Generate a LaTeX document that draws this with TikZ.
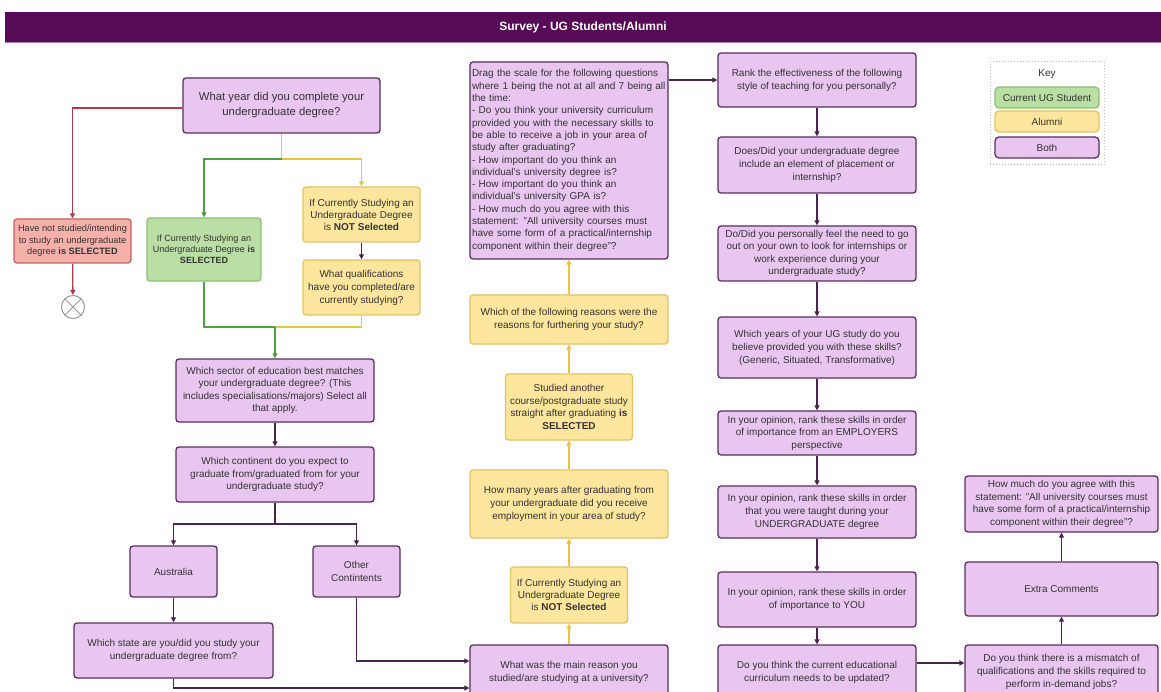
\documentclass[tikz,border=0pt]{standalone}
\usepackage{fontspec}
\setmainfont{Liberation Sans}
\usetikzlibrary{arrows.meta}
\definecolor{bothfill}{HTML}{E8C6F0}
\definecolor{bothline}{HTML}{5A2D5E}
\definecolor{alumfill}{HTML}{FCE59C}
\definecolor{alumline}{HTML}{E2C265}
\definecolor{curfill}{HTML}{BADFA4}
\definecolor{curline}{HTML}{8CBF73}
\definecolor{nofill}{HTML}{F5B1A9}
\definecolor{noline}{HTML}{C4625C}
\definecolor{titlebar}{HTML}{570B57}
\definecolor{textgray}{HTML}{333333}
\definecolor{arrdark}{HTML}{4B2350}
\definecolor{arryellow}{HTML}{E6C640}
\definecolor{arrgreen}{HTML}{4E9E44}
\definecolor{arrred}{HTML}{B03C46}

\begin{document}
\begin{tikzpicture}[x=1pt,y=-1pt,>={Triangle[length=5pt,width=5pt]},line width=1.3pt,font=\fontsize{10}{13}\selectfont,
    box/.style={rectangle,rounded corners=3pt,draw,line width=1.3pt,align=center,text=textgray,inner sep=2pt},
    both node/.style={box,fill=bothfill,draw=bothline},
    alumni node/.style={box,fill=alumfill,draw=alumline},
    current node/.style={box,fill=curfill,draw=curline},
    none node/.style={box,fill=nofill,draw=noline},
    wh/.style 2 args={minimum width=#1pt,minimum height=#2pt}]

            \useasboundingbox (0,0) rectangle (1161,692);
            \clip (0,0) rectangle (1161,692);
            \fill[white] (0,0) rectangle (1161,692);
            \fill[titlebar] (5,12) rectangle (1161,43);
            \draw[bothfill!60!titlebar,line width=1pt] (5,42.5) -- (1161,42.5);
            \node[text=white,font=\bfseries\fontsize{12}{14}\selectfont] (title) at (583,27.5) {Survey - UG Students/Alumni};

            \node[both node,wh={197}{55},font=\fontsize{11.3}{15}\selectfont] (1) at (281.5,105.5) {What year did you complete your\\undergraduate degree?};
            \node[none node,wh={117}{44},font=\fontsize{9.2}{11.5}\selectfont] (2) at (72.5,241) {Have not studied/intending\\to study an undergraduate\\degree \textbf{is SELECTED}};
            \node[circle,draw=gray!80,line width=1pt,minimum size=23pt] (3) at (73,307) {};
            \node[current node,wh={114}{63},font=\fontsize{9}{11}\selectfont] (4) at (204,249.5) {If Currently Studying an\\Undergraduate Degree \textbf{is}\\\textbf{SELECTED}};
            \node[alumni node,wh={117}{55},font=\fontsize{10}{12}\selectfont] (5) at (361.5,214.5) {If Currently Studying an\\Undergraduate Degree\\is \textbf{NOT Selected}};
            \node[alumni node,wh={117}{55}] (6) at (361.5,287.5) {What qualifications\\have you completed/are\\currently studying?};
            \node[both node,wh={198}{63},font=\fontsize{10}{12.3}\selectfont] (7) at (275,390.5) {Which sector of education best matches\\your undergraduate degree? (This\\includes specialisations/majors) Select all\\that apply.};
            \node[both node,wh={198}{55},font=\fontsize{10}{12.5}\selectfont] (8) at (275,474.5) {Which continent do you expect to\\graduate from/graduated from for your\\undergraduate study?};
            \node[both node,wh={87}{51}] (9) at (173.5,571.5) {Australia};
            \node[both node,wh={87}{51}] (10) at (356.5,571.5) {Other\\Contintents};
            \node[both node,wh={199}{55}] (11) at (173.5,650.5) {Which state are you/did you study your\\undergraduate degree from?};

            \node[both node,wh={198}{197},align=left,text width=194pt,font=\fontsize{10}{12.3}\selectfont] (1b) at (569,160.5) {Drag the scale for the following questions\\where 1 being the not at all and 7 being all\\the time:\\- Do you think your university curriculum\\provided you with the necessary skills to\\be able to receive a job in your area of\\study after graduating?\\- How important do you think an\\individual's university degree is?\\- How important do you think an\\individual's university GPA is?\\- How much do you agree with this\\statement: "All university courses must\\have some form of a practical/internship\\component within their degree"?};
            \node[alumni node,wh={198}{49}] (2b) at (569,319.5) {Which of the following reasons were the\\reasons for furthering your study?};
            \node[alumni node,wh={127}{66},font=\fontsize{10}{12.4}\selectfont] (3b) at (569,407) {Studied another\\course/postgraduate study\\straight after graduating \textbf{is}\\\textbf{SELECTED}};
            \node[alumni node,wh={198}{68}] (4b) at (569,504) {How many years after graduating from\\your undergraduate did you receive\\employment in your area of study?};
            \node[alumni node,wh={117}{56},font=\fontsize{10}{12.4}\selectfont] (5b) at (569,595) {If Currently Studying an\\Undergraduate Degree\\is \textbf{NOT Selected}};
            \node[both node,wh={198}{54}] (6b) at (569,672) {What was the main reason you\\studied/are studying at a university?};

            \node[both node,wh={198}{54}] (1c) at (817,80) {Rank the effectiveness of the following\\style of teaching for you personally?};
            \node[both node,wh={198}{56}] (2c) at (817,165) {Does/Did your undergraduate degree\\include an element of placement or\\internship?};
            \node[both node,wh={198}{55},font=\fontsize{10}{12.3}\selectfont] (3c) at (817,253.5) {Do/Did you personally feel the need to go\\out on your own to look for internships or\\work experience during your\\undergraduate study?};
            \node[both node,wh={198}{61}] (4c) at (817,347.5) {Which years of your UG study do you\\believe provided you with these skills?\\(Generic, Situated, Transformative)};
            \node[both node,wh={198}{44},font=\fontsize{10}{12.5}\selectfont] (5c) at (817,433) {In your opinion, rank these skills in order\\of importance from an EMPLOYERS\\perspective};
            \node[both node,wh={198}{52}] (6c) at (817,512) {In your opinion, rank these skills in order\\that you were taught during your\\UNDERGRADUATE degree};
            \node[both node,wh={198}{55}] (7c) at (817,599.5) {In your opinion, rank these skills in order\\of importance to YOU};
            \node[both node,wh={198}{54}] (8c) at (817,672) {Do you think the current educational\\curriculum needs to be updated?};

            \node[both node,wh={193}{56},font=\fontsize{10}{12.5}\selectfont] (1d) at (1061.5,504) {How much do you agree with this\\statement: "All university courses must\\have some form of a practical/internship\\component within their degree"?};
            \node[both node,wh={193}{54}] (2d) at (1061.5,589) {Extra Comments};
            \node[both node,wh={193}{54}] (3d) at (1061.5,672) {Do you think there is a mismatch of\\qualifications and the skills required to\\perform in-demand jobs?};

            \node[draw=gray!50,dotted,line width=1pt,fill=white,wh={114}{103}] (key) at (1047,113.5) {};
            \node[text=textgray] (k0) at (1047,74) {Key};
            \node[current node,rounded corners=4pt,wh={104}{21}] (k1) at (1047,97.5) {Current UG Student};
            \node[alumni node,rounded corners=4pt,wh={104}{21}] (k2) at (1047,121.5) {Alumni};
            \node[both node,rounded corners=4pt,wh={104}{21}] (k3) at (1047,147.5) {Both};

            \coordinate (s1) at (281.5,159);
            \coordinate (s2) at (275,327);
            \coordinate (s3) at (275,524);

            \draw[gray!80,line width=1pt] (3.north west) -- (3.south east) (3.north east) -- (3.south west);
            \draw[arrred,->] ([yshift=-2.5pt]1.west) -| (2.north);
            \draw[arrred,->] (2) -- (3);
            \draw[arryellow] (1.south) -- (s1);
            \draw[arryellow,->] (s1) -| (5.north);
            \draw[arrgreen,->] (s1) -| (4.north);
            \draw[arrdark,->] (5) -- (6);
            \draw[arrgreen] (4.south) |- (s2);
            \draw[arryellow] (6.south) |- (s2);
            \draw[arrgreen,->] (s2) -- (7.north);
            \draw[arrdark,->] (7) -- (8);
            \draw[arrdark] (8.south) -- (s3);
            \draw[arrdark,->] (s3) -| (9.north);
            \draw[arrdark,->] (s3) -| (10.north);
            \draw[arrdark,->] (9) -- (11);
            \draw[arrdark,->] (10.south) |- ([yshift=11pt]6b.west);
            \draw[arrdark,->] (11.south) |- ([yshift=-16pt]6b.west);

            \path[->,color=arryellow]
                (6b) edge (5b)
                (5b) edge (4b)
                (4b) edge (3b)
                (3b) edge (2b)
                (2b) edge (1b)
            ;
            \draw[arrdark,->] (1b.east |- 1c.west) -- (1c.west);
            \path[->,color=arrdark]
                (1c) edge (2c)
                (2c) edge (3c)
                (3c) edge (4c)
                (4c) edge (5c)
                (5c) edge (6c)
                (6c) edge (7c)
                (7c) edge (8c)
                (3d) edge (2d)
                (2d) edge (1d)
            ;
            \draw[arrdark,->] ([yshift=9pt]8c.east) -- ([yshift=9pt]8c.east -| 3d.west);
        \end{tikzpicture}
\end{document}
